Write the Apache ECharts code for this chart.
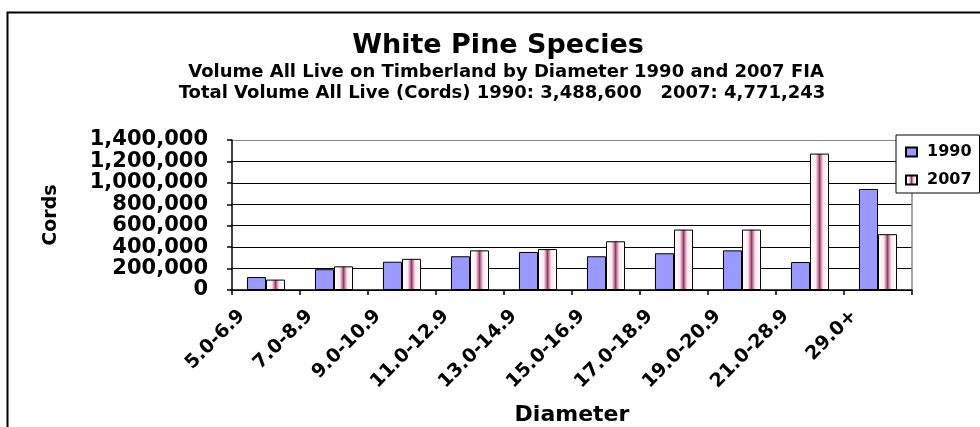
<!DOCTYPE html>
<html><head><meta charset="utf-8">
<script src="https://cdn.jsdelivr.net/npm/echarts@6/dist/echarts.min.js"></script>
<style>html,body{margin:0;padding:0;background:#fff}#c{width:980px;height:427px}</style>
</head><body><div id="c"></div>
<script>
var categories = ['5.0-6.9','7.0-8.9','9.0-10.9','11.0-12.9','13.0-14.9','15.0-16.9','17.0-18.9','19.0-20.9','21.0-28.9','29.0+'];
var values1990 = [121000,194000,264000,315000,355000,315000,343000,370000,261000,943000];
var values2007 = [97000,221000,291000,370000,382000,455000,564000,564000,1273000,521000];
var seriesNames = ['1990','2007'];
var titleText = 'White Pine Species';
var subtitle1 = 'Volume All Live on Timberland by Diameter 1990 and 2007 FIA';
var subtitle2 = 'Total Volume All Live (Cords) 1990: 3,488,600   2007: 4,771,243';

var F = '"DejaVu Sans", Arial, sans-serif';
function fmt(v){ return String(v).replace(/\B(?=(\d{3})+(?!\d))/g, ','); }
var stripe = {type:'linear',x:0,y:0,x2:1,y2:0,colorStops:[
  {offset:0,color:'#ffffff'},{offset:0.3,color:'#fbeef3'},{offset:0.42,color:'#d08aa8'},
  {offset:0.5,color:'#993366'},{offset:0.58,color:'#d08aa8'},{offset:0.7,color:'#fbeef3'},{offset:1,color:'#ffffff'}]};

var chart = echarts.init(document.getElementById('c'), null, {renderer:'canvas'});
chart.setOption({
  animation:false,
  backgroundColor:'#fff',
  graphic:[{type:'rect',left:5,top:10,shape:{width:1000,height:500},style:{fill:null,stroke:'#000',lineWidth:2},silent:true}],
  title:[
    {text:titleText,left:498,textAlign:'center',top:32,padding:0,textStyle:{fontFamily:F,fontWeight:'bold',fontSize:27,color:'#000'}},
    {text:subtitle1,left:506,textAlign:'center',top:63,padding:0,textStyle:{fontFamily:F,fontWeight:'bold',fontSize:18,color:'#000'}},
    {text:subtitle2,left:502,textAlign:'center',top:84,padding:0,textStyle:{fontFamily:F,fontWeight:'bold',fontSize:18,color:'#000'}}
  ],
  legend:{
    orient:'vertical',left:896,top:135,width:83,
    padding:[9,8,5,9],itemGap:12,itemWidth:11,itemHeight:9,
    borderColor:'#000',borderWidth:1,backgroundColor:'#fff',
    icon:'rect',
    textStyle:{fontFamily:F,fontWeight:'bold',fontSize:16,color:'#000',padding:[0,0,0,5]},
    data:seriesNames
  },
  grid:{left:232,right:68,top:140,bottom:133,containLabel:false},
  xAxis:{
    type:'category',data:categories,
    axisLine:{lineStyle:{color:'#000',width:1.5}},
    axisTick:{show:true,length:5,lineStyle:{color:'#000',width:1.5}},
    axisLabel:{rotate:45,interval:0,margin:-1,padding:[0,34,0,0],fontFamily:F,fontWeight:'bold',fontSize:19,color:'#000'},
    name:'Diameter',nameLocation:'middle',nameGap:114,
    nameTextStyle:{fontFamily:F,fontWeight:'bold',fontSize:22,color:'#000'}
  },
  yAxis:[{
    type:'value',min:0,max:1400000,interval:200000,
    axisLine:{show:true,lineStyle:{color:'#000',width:1.5}},
    axisTick:{show:true,length:5,inside:false,lineStyle:{color:'#000',width:1.5}},
    splitLine:{show:true,lineStyle:{color:['#000','#000','#000','#000','#000','#000','#000','#888'],width:1.2}},
    axisLabel:{margin:24,formatter:fmt,showMinLabel:true,showMaxLabel:true,hideOverlap:false,fontFamily:F,fontWeight:'bold',fontSize:21,color:'#000'},
    name:'Cords',nameLocation:'middle',nameGap:171,nameRotate:90,
    nameTextStyle:{fontFamily:F,fontWeight:'bold',fontSize:19,color:'#000'}
  },{
    type:'value',min:0,max:1400000,interval:200000,position:'right',
    axisLine:{show:true,lineStyle:{color:'#888',width:1.5}},
    axisTick:{show:false},axisLabel:{show:false},splitLine:{show:false}
  }],
  series:[
    {name:seriesNames[0],type:'bar',data:values1990,barGap:'0%',barCategoryGap:'44%',
     itemStyle:{color:'#9999ff',borderColor:'#000',borderWidth:1}},
    {name:seriesNames[1],type:'bar',data:values2007,barGap:'0%',barCategoryGap:'44%',
     itemStyle:{color:stripe,borderColor:'#000',borderWidth:1}}
  ]
});
</script></body></html>
